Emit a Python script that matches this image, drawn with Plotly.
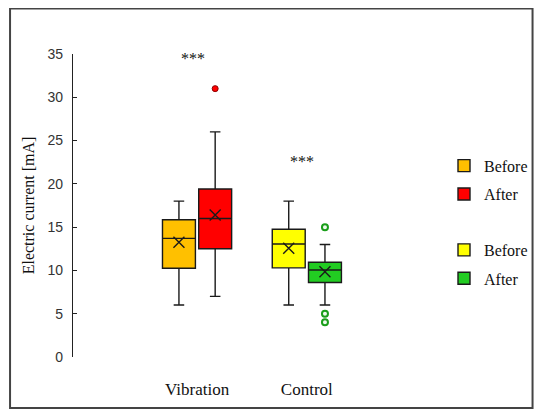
import plotly.graph_objects as go

# ---------------- data ----------------
groups = ["Vibration", "Control"]
series_names = ["Before", "After", "Before", "After"]
series_group = [0, 0, 1, 1]
series_colors = ["#FFC000", "#FF0000", "#FFFF00", "#22CC22"]
q1_vals = [10.25, 12.5, 10.3, 8.6]
median_vals = [13.7, 16.0, 13.05, 10.05]
q3_vals = [15.85, 19.4, 14.75, 10.95]
lower_vals = [6, 7, 6, 6]
upper_vals = [18, 26, 18, 13]
mean_vals = [13.25, 16.4, 12.55, 9.85]
outlier_vals = [[], [31], [], [15, 5, 4]]
sig_labels = ["***", "***"]
sig_y = [34.5, 22.6]
y_ticks = [0, 5, 10, 15, 20, 25, 30, 35]

# ---------------- layout helpers ----------------
# page has an 8px body margin, so the figure is sized 8px smaller
W, H = 542, 406
ML, MR, MT, MB = 65.3, 110, 46.3, 57.3
PW, PH = W - ML - MR, H - MT - MB
BOX_W = 0.30
OFFSET = 0.165
XR = [-1.13, 2.14]

def px_to_paper_x(px):
    return (px - ML) / PW

def px_to_paper_y(py):
    return (H - MB - py) / PH

fig = go.Figure()

for i, name in enumerate(series_names):
    g = series_group[i]
    side = -1 if name == "Before" else 1
    pos = g + side * OFFSET
    legend_id = "legend" if g == 0 else "legend2"
    fig.add_trace(go.Box(
        x=[pos], q1=[q1_vals[i]], median=[median_vals[i]], q3=[q3_vals[i]],
        lowerfence=[lower_vals[i]], upperfence=[upper_vals[i]],
        name=name, fillcolor=series_colors[i],
        line=dict(color="#1a1a1a", width=1.4),
        width=BOX_W, whiskerwidth=0.32,
        boxpoints=False, legend=legend_id, legendgroup=f"s{i}",
        hoverinfo="skip",
    ))
    # mean marker
    fig.add_trace(go.Scatter(
        x=[pos], y=[mean_vals[i]], mode="markers",
        marker=dict(symbol="x-thin", size=11, line=dict(color="#1a1a1a", width=1.4)),
        showlegend=False, hoverinfo="skip", cliponaxis=False,
    ))
    # outliers
    if outlier_vals[i]:
        if name == "After" and g == 1:
            mk = dict(symbol="circle", size=6, color="#eefaee",
                      line=dict(color="#1a9e1a", width=2))
        else:
            mk = dict(symbol="circle", size=6, color=series_colors[i],
                      line=dict(color="#8b0000", width=1))
        fig.add_trace(go.Scatter(
            x=[pos] * len(outlier_vals[i]), y=outlier_vals[i], mode="markers",
            marker=mk, showlegend=False, hoverinfo="skip", cliponaxis=False,
        ))

for g, lab in enumerate(sig_labels):
    fig.add_annotation(x=g - 0.04, y=sig_y[g], text=lab, showarrow=False,
                       font=dict(family="Liberation Serif", size=16, color="#111"))

# outer frame
fig.add_shape(type="rect", xref="paper", yref="paper",
              x0=px_to_paper_x(1), x1=px_to_paper_x(534.7),
              y0=px_to_paper_y(399.7), y1=px_to_paper_y(1),
              line=dict(color="#444", width=2), layer="below")

legend_common = dict(
    xref="container", yref="container", xanchor="left", yanchor="top",
    font=dict(family="Liberation Serif", size=16, color="#111"),
    bgcolor="rgba(0,0,0,0)", tracegroupgap=4.6, traceorder="grouped",
)

fig.update_layout(
    width=W, height=H,
    margin=dict(l=ML, r=MR, t=MT, b=MB),
    paper_bgcolor="white", plot_bgcolor="white",
    font=dict(family="Liberation Serif", size=16, color="#111"),
    boxmode="overlay", showlegend=True,
    legend=dict(x=436 / W, y=(H - 140.7) / H, **legend_common),
    legend2=dict(x=436 / W, y=(H - 225) / H, **legend_common),
    xaxis=dict(range=XR, tickvals=[0, 1], ticktext=groups, showline=False,
               showgrid=False, zeroline=False, ticks="", ticklabelstandoff=20,
               tickfont=dict(family="Liberation Serif", size=17, color="#111")),
    yaxis=dict(range=[0, 35], tickvals=y_ticks, showline=True, linecolor="#222",
               linewidth=1.4, ticks="inside", ticklen=4, tickcolor="#222",
               showgrid=False, zeroline=False, ticklabelstandoff=6,
               tickfont=dict(family="Liberation Sans", size=14, color="#333"),
               title=dict(text="Electric current [mA]", standoff=8,
                          font=dict(family="Liberation Serif", size=16, color="#111"))),
)

fig.write_html("out.html")
